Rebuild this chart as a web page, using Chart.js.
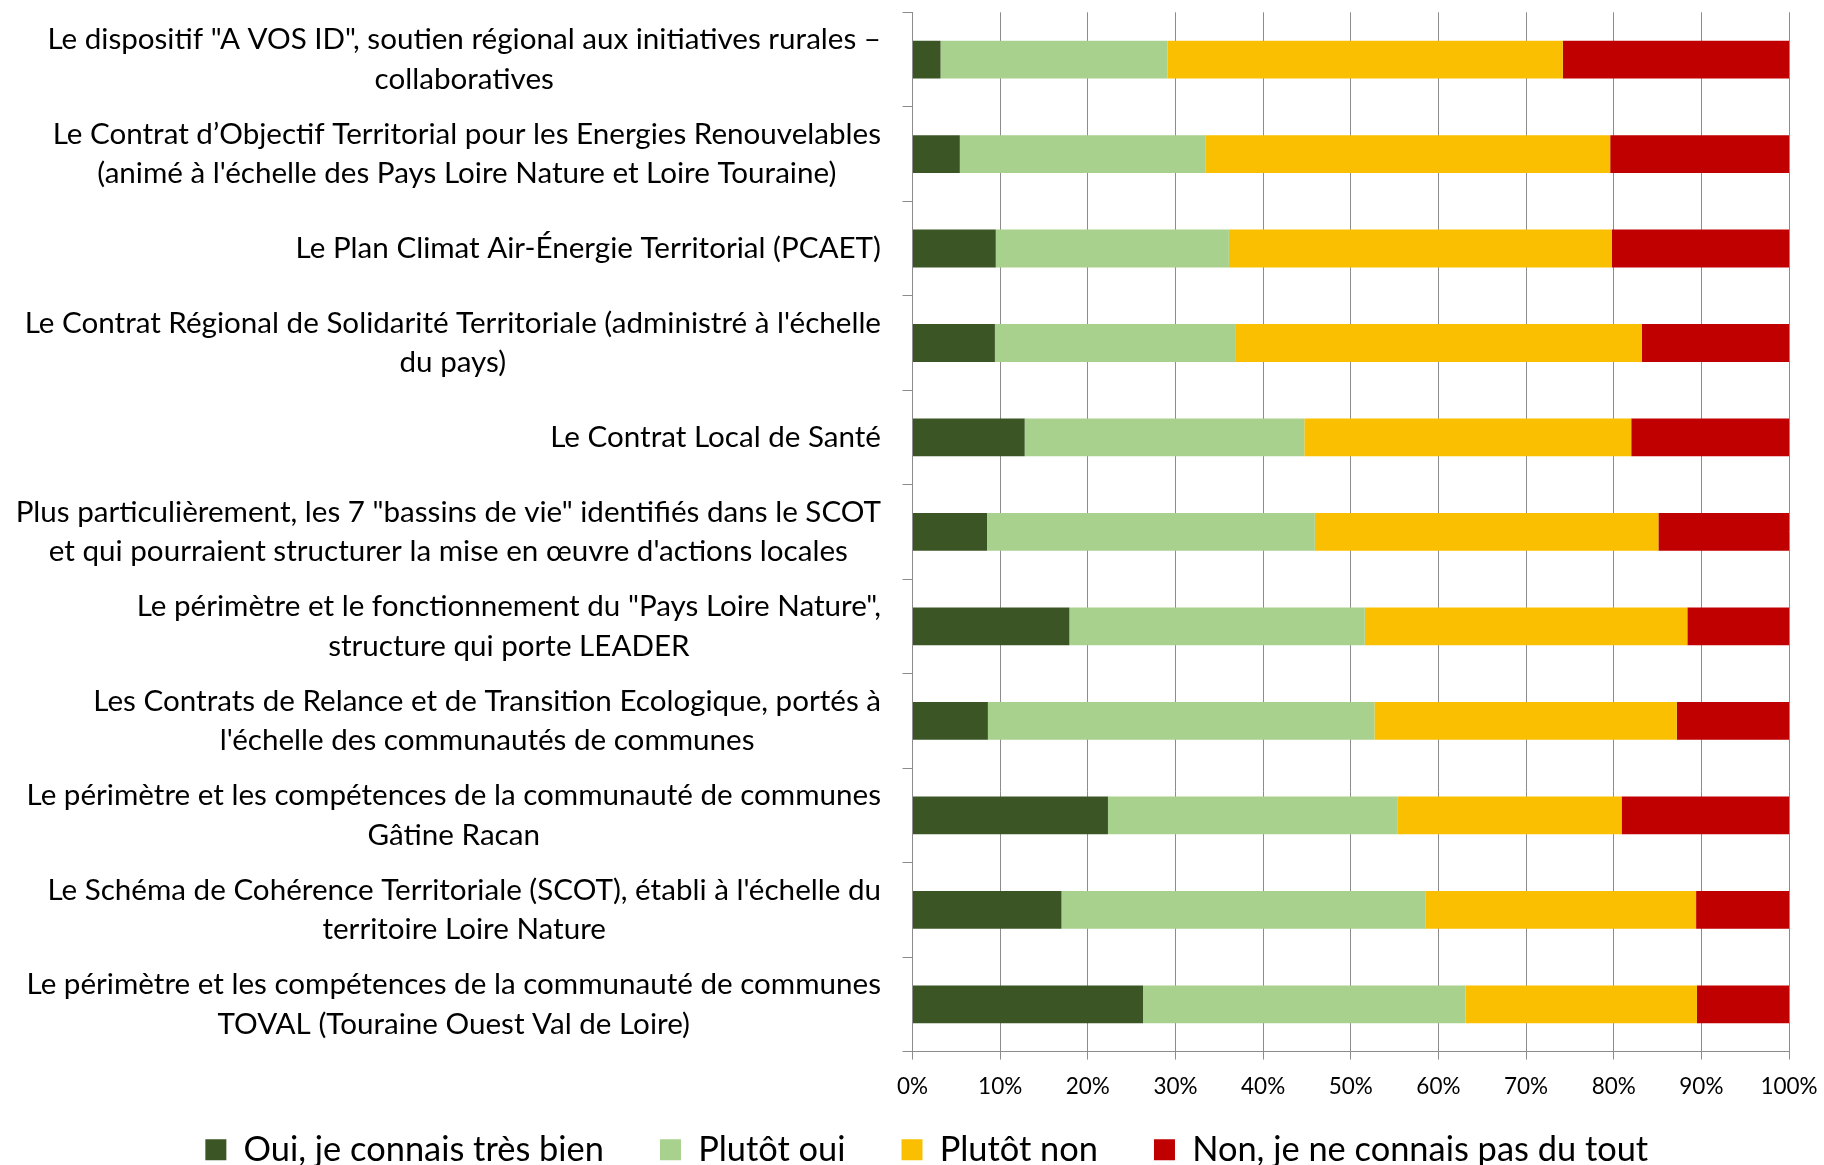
<!DOCTYPE html>
<html>
<head>
<meta charset="utf-8">
<script src="https://cdn.jsdelivr.net/npm/chart.js@4.4.0/dist/chart.umd.min.js"></script>
<style>
    html, body { margin: 0; padding: 0; background: #fff; }
    #wrap { width: 1824px; height: 1165px; }
</style>
</head>
<body>
<div id="wrap"><canvas id="chart" width="1824" height="1165"></canvas></div>
<script>
var categories = [
    ['Le dispositif "A VOS ID", soutien régional aux initiatives rurales –', 'collaboratives'],
    ['Le Contrat d’Objectif Territorial pour les Energies Renouvelables', "(animé à l'échelle des Pays Loire Nature et Loire Touraine)"],
    'Le Plan Climat Air-Énergie Territorial (PCAET)',
    ["Le Contrat Régional de Solidarité Territoriale (administré à l'échelle", 'du pays)'],
    'Le Contrat Local de Santé',
    ['Plus particulièrement, les 7 "bassins de vie" identifiés dans le SCOT', "et qui pourraient structurer la mise en œuvre d'actions locales"],
    ['Le périmètre et le fonctionnement du "Pays Loire Nature",', 'structure qui porte LEADER'],
    ['Les Contrats de Relance et de Transition Ecologique, portés à', "l'échelle des communautés de communes"],
    ['Le périmètre et les compétences de la communauté de communes', 'Gâtine Racan'],
    ["Le Schéma de Cohérence Territoriale (SCOT), établi à l'échelle du", 'territoire Loire Nature'],
    ['Le périmètre et les compétences de la communauté de communes', 'TOVAL (Touraine Ouest Val de Loire)']
];

var seriesNames = ['Oui, je connais très bien', 'Plutôt oui', 'Plutôt non', 'Non, je ne connais pas du tout'];
var seriesColors = ['#3b5624', '#a9d18e', '#f9bf00', '#c00000'];

var ouiTresBien = [3.2, 5.4, 9.5, 9.4, 12.8, 8.5, 17.9, 8.6, 22.3, 17.0, 26.3];
var plutotOui   = [25.9, 28.0, 26.6, 27.5, 31.9, 37.4, 33.7, 44.1, 33.0, 41.5, 36.8];
var plutotNon   = [45.1, 46.2, 43.7, 46.3, 37.3, 39.2, 36.8, 34.5, 25.6, 30.9, 26.4];
var nonPasDuTout = [25.8, 20.4, 20.2, 16.8, 18.0, 14.9, 11.6, 12.8, 19.1, 10.6, 10.5];

var xTicks = [0, 10, 20, 30, 40, 50, 60, 70, 80, 90, 100];

var FONT = 'Lato';
var LABEL_SIZE = 29.6;
var LINE_H = 39.5;
var GRID = '#8c8c8c';
var PAD_LEFT = 64.5;

// category labels: block right-aligned, lines centred inside the block
var blockLabels = {
    id: 'blockLabels',
    afterLayout: function (chart) {
        // let the x tick labels reach below the (squeezed) axis box
        chart.scales.x.bottom = chart.height;
    },
    afterDraw: function (chart) {
        var ctx = chart.ctx;
        var y = chart.scales.y;
        var right = y.right - 31.5;
        ctx.save();
        ctx.font = LABEL_SIZE + 'px ' + FONT;
        ctx.fillStyle = '#000';
        ctx.textAlign = 'center';
        ctx.textBaseline = 'middle';
        categories.forEach(function (lab, i) {
            var lines = Array.isArray(lab) ? lab : [lab];
            var w = 0;
            lines.forEach(function (l) { w = Math.max(w, ctx.measureText(l).width); });
            var cy = y.getPixelForTick(i);
            lines.forEach(function (l, k) {
                ctx.fillText(l, right - w / 2, cy + (k - (lines.length - 1) / 2) * LINE_H);
            });
        });
        ctx.restore();
    }
};

var values = [ouiTresBien, plutotOui, plutotNon, nonPasDuTout];
var datasets = seriesNames.map(function (name, i) {
    return {
        label: name,
        data: values[i],
        backgroundColor: seriesColors[i],
        borderWidth: 0,
        barPercentage: 0.4,
        categoryPercentage: 1
    };
});

new Chart(document.getElementById('chart'), {
    type: 'bar',
    data: {
        labels: categories.map(function (c) { return Array.isArray(c) ? c.join(' ') : c; }),
        datasets: datasets
    },
    options: {
        indexAxis: 'y',
        responsive: false,
        animation: false,
        layout: { padding: { left: PAD_LEFT, right: 35, top: 12.3, bottom: -11.9 } },
        scales: {
            x: {
                stacked: true,
                min: 0,
                max: 100,
                afterBuildTicks: function (scale) {
                    scale.ticks = xTicks.map(function (v) { return { value: v }; });
                },
                afterFit: function (scale) { scale.height = 24.9; },
                ticks: {
                    font: { family: FONT, size: 22.5, lineHeight: 2 },
                    color: '#000',
                    padding: 4.4,
                    maxRotation: 0,
                    callback: function (v) { return v + '%'; }
                },
                grid: { color: GRID, tickLength: 8, lineWidth: 1 },
                border: { color: GRID }
            },
            y: {
                stacked: true,
                afterFit: function (scale) { scale.width = 912.5 - PAD_LEFT; },
                ticks: { display: false },
                grid: { color: GRID, drawOnChartArea: false, tickLength: 10, offset: true },
                border: { color: GRID }
            }
        },
        plugins: {
            legend: {
                position: 'bottom',
                labels: {
                    font: { family: FONT, size: 34.4 },
                    color: '#000',
                    boxWidth: 21,
                    boxHeight: 21,
                    padding: 56
                }
            },
            tooltip: { enabled: false }
        }
    },
    plugins: [blockLabels]
});
</script>
</body>
</html>
